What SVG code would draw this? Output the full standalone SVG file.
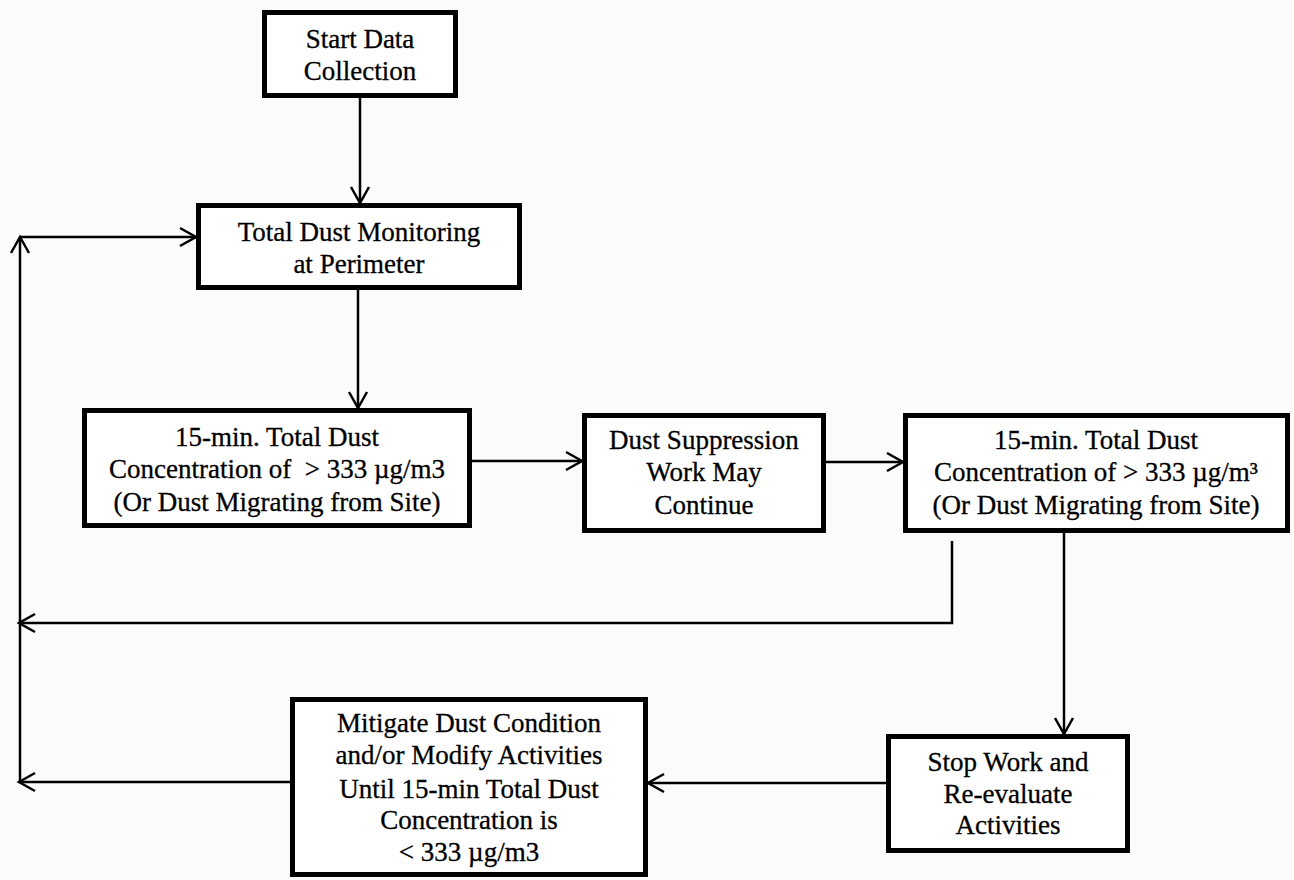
<svg xmlns="http://www.w3.org/2000/svg" width="1294" height="880" viewBox="0 0 1294 880">
<style>
.box{fill:#ffffff;stroke:#000;stroke-width:5}
.t{font-family:"Liberation Serif","Times New Roman",serif;font-size:27px;fill:#000;stroke:#000;stroke-width:0.3;text-anchor:middle}
.c{fill:none;stroke:#000;stroke-width:2.5}
</style>
<defs>
<marker id="ah" markerUnits="userSpaceOnUse" markerWidth="22" markerHeight="22" refX="17" refY="10" orient="auto" overflow="visible">
<path d="M1,1 L17,10 L1,19" fill="none" stroke="#000" stroke-width="2.5"/>
</marker>
</defs>
<rect width="1294" height="880" fill="#fbfbfb"/>
<g id="connectors">
<path class="c" d="M360,98 V203" marker-end="url(#ah)"/>
<path class="c" d="M358,290 V408" marker-end="url(#ah)"/>
<path class="c" d="M472,461 H582" marker-end="url(#ah)"/>
<path class="c" d="M826,462 H903" marker-end="url(#ah)"/>
<path class="c" d="M1064,533 V734" marker-end="url(#ah)"/>
<path class="c" d="M886,783 H648" marker-end="url(#ah)"/>
<path class="c" d="M952,541 V623 H19" marker-end="url(#ah)"/>
<path class="c" d="M290,782 H19" marker-end="url(#ah)"/>
<path class="c" d="M20,782 V237" marker-end="url(#ah)"/>
<path class="c" d="M20,237 H196" marker-end="url(#ah)"/>
</g>
<g id="start">
<rect class="box" x="264.5" y="12.5" width="191" height="83"/>
<text class="t" x="360" y="48">Start Data</text>
<text class="t" x="360" y="80">Collection</text>
</g>
<g id="monitoring">
<rect class="box" x="198.5" y="205.5" width="321" height="82"/>
<text class="t" x="359" y="241">Total Dust Monitoring</text>
<text class="t" x="359" y="273">at Perimeter</text>
</g>
<g id="check1">
<rect class="box" x="84.5" y="410.5" width="385" height="115"/>
<text class="t" x="277" y="446">15-min. Total Dust</text>
<text class="t" x="277" y="478" xml:space="preserve">Concentration of  &gt; 333 µg/m3</text>
<text class="t" x="277" y="511">(Or Dust Migrating from Site)</text>
</g>
<g id="suppression">
<rect class="box" x="584.5" y="415.5" width="239" height="115"/>
<text class="t" x="704" y="449">Dust Suppression</text>
<text class="t" x="704" y="481">Work May</text>
<text class="t" x="704" y="514">Continue</text>
</g>
<g id="check2">
<rect class="box" x="905.5" y="415.5" width="382" height="115"/>
<text class="t" x="1096" y="449">15-min. Total Dust</text>
<text class="t" x="1096" y="481">Concentration of &gt; 333 µg/m³</text>
<text class="t" x="1096" y="514">(Or Dust Migrating from Site)</text>
</g>
<g id="stop">
<rect class="box" x="888.5" y="736.5" width="239" height="114"/>
<text class="t" x="1008" y="771">Stop Work and</text>
<text class="t" x="1008" y="803">Re-evaluate</text>
<text class="t" x="1008" y="834">Activities</text>
</g>
<g id="mitigate">
<rect class="box" x="292.5" y="699.5" width="353" height="175"/>
<text class="t" x="469" y="732">Mitigate Dust Condition</text>
<text class="t" x="469" y="764">and/or Modify Activities</text>
<text class="t" x="469" y="798">Until 15-min Total Dust</text>
<text class="t" x="469" y="829">Concentration is</text>
<text class="t" x="469" y="861">&lt; 333 µg/m3</text>
</g>
</svg>
